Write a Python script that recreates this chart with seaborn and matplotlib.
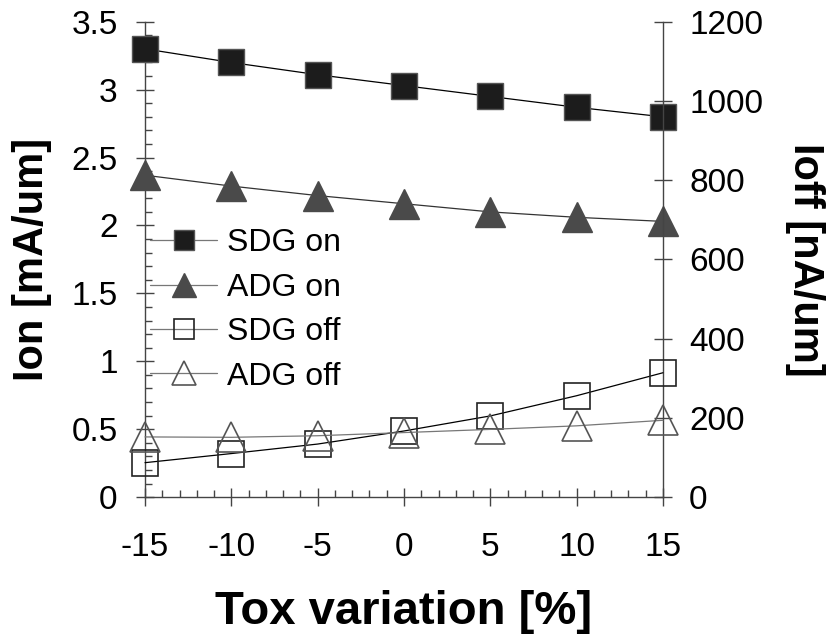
import matplotlib
matplotlib.use('Agg')
import matplotlib.pyplot as plt
import seaborn as sns
from matplotlib.ticker import MultipleLocator, FormatStrFormatter

# Data
tox = [-15, -10, -5, 0, 5, 10, 15]
sdg_on = [3.30, 3.20, 3.11, 3.03, 2.95, 2.87, 2.80]
adg_on = [2.37, 2.29, 2.22, 2.16, 2.10, 2.06, 2.03]
sdg_off = [87, 110, 134, 167, 205, 256, 314]
adg_off = [152, 151, 155, 163, 171, 180, 194]

sns.set_style('white')
plt.rcParams['font.family'] = ['Liberation Sans', 'DejaVu Sans']
plt.rcParams['axes.unicode_minus'] = False
plt.rcParams['text.color'] = 'black'
plt.rcParams['axes.labelcolor'] = 'black'
plt.rcParams['xtick.color'] = 'black'
plt.rcParams['ytick.color'] = 'black'

fig = plt.figure(figsize=(8.31, 6.39), dpi=100)
ax = fig.add_axes([0.1745, 0.222, 0.6233, 0.744])
ax2 = ax.twinx()

edge = '#444444'

sns.lineplot(x=tox, y=sdg_on, ax=ax, color='black', linewidth=0.9,
             marker='s', markersize=19, markerfacecolor='#1c1c1c',
             markeredgecolor='#555555', markeredgewidth=1, label='SDG on',
             clip_on=False, zorder=5)
sns.lineplot(x=tox, y=adg_on, ax=ax, color='#333333', linewidth=0.9,
             marker='^', markersize=21, markerfacecolor='#4a4a4a',
             markeredgecolor='#4a4a4a', markeredgewidth=1, label='ADG on',
             clip_on=False, zorder=5)
sns.lineplot(x=tox, y=sdg_off, ax=ax2, color='black', linewidth=0.9,
             marker='s', markersize=19, markerfacecolor='none',
             markeredgecolor='#222222', markeredgewidth=1.2, label='SDG off',
             clip_on=False, zorder=5)
sns.lineplot(x=tox, y=adg_off, ax=ax2, color='#777777', linewidth=0.9,
             marker='^', markersize=21, markerfacecolor='none',
             markeredgecolor='#555555', markeredgewidth=1.2, label='ADG off',
             clip_on=False, zorder=5)

ax.set_xlim(-15, 15)
ax.set_ylim(0, 3.5)
ax2.set_ylim(0, 1200)
ax.xaxis.set_major_locator(MultipleLocator(5))
ax.xaxis.set_minor_locator(MultipleLocator(1))
ax.yaxis.set_major_locator(MultipleLocator(0.5))
ax.yaxis.set_minor_locator(MultipleLocator(0.1))
ax2.yaxis.set_major_locator(MultipleLocator(200))
ax.xaxis.set_major_formatter(FormatStrFormatter('%g'))
ax.yaxis.set_major_formatter(FormatStrFormatter('%g'))

for a in (ax, ax2):
    for s in a.spines.values():
        s.set_color(edge)
        s.set_linewidth(1)
    a.spines['top'].set_visible(False)
ax.spines['right'].set_visible(False)
ax2.spines['left'].set_visible(False)
ax2.spines['bottom'].set_visible(False)

ax.tick_params(axis='both', which='major', direction='inout', length=13.5,
               width=1, color=edge, labelsize=24)
ax.tick_params(axis='x', which='major', pad=18)
ax.tick_params(axis='y', which='major', pad=13)
ax.tick_params(axis='both', which='minor', direction='in', length=5,
               width=1, color=edge)
ax.tick_params(axis='x', which='both', bottom=True)
ax.tick_params(axis='y', which='both', left=True)
ax2.tick_params(axis='y', which='major', direction='inout', length=13.5,
                width=1, color=edge, labelsize=24, pad=12, right=True)

ax.set_xlabel('Tox variation [%]', fontsize=34, fontweight='bold', labelpad=20)
ax.set_ylabel('Ion [mA/um]', fontsize=30, fontweight='bold', labelpad=14)
ax2.set_ylabel('Ioff [nA/um]', fontsize=30, fontweight='bold', rotation=-90,
               va='bottom', labelpad=16)

h1, l1 = ax.get_legend_handles_labels()
h2, l2 = ax2.get_legend_handles_labels()
ax.get_legend().remove()
ax2.get_legend().remove()
leg = ax2.legend(h1 + h2, l1 + l2, loc='upper left', bbox_to_anchor=(-0.015, 0.592),
                 frameon=False, fontsize=23, handlelength=2.1, handletextpad=0.3,
                 labelspacing=0.45, borderaxespad=0)
for h, ms in zip(leg.legend_handles, [15, 17, 15, 17]):
    h.set_markersize(ms)
for h in leg.legend_handles:
    h.set_color('#777777')
for h, fc, ec in zip(leg.legend_handles,
                     ['#1c1c1c', '#4a4a4a', 'none', 'none'],
                     ['#555555', '#4a4a4a', '#222222', '#555555']):
    h.set_markerfacecolor(fc)
    h.set_markeredgecolor(ec)

fig.savefig('out.png', dpi=100)
